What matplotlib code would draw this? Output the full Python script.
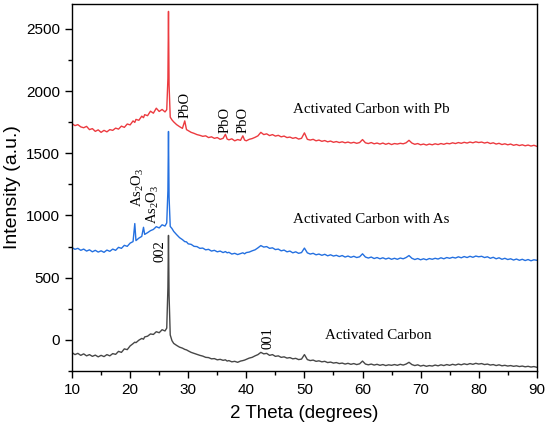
import matplotlib
matplotlib.use("Agg")
import matplotlib.pyplot as plt
from matplotlib.ticker import MultipleLocator

# 2 theta positions (deg), shared by the three patterns
two_theta = [
    10.0, 10.5, 11.0, 11.5, 12.0, 12.5, 13.0, 13.5, 14.0, 14.5,
    15.0, 15.5, 16.0, 16.5, 17.0, 17.5, 18.0, 18.5, 19.0, 19.5,
    20.0, 20.5, 20.8, 21.0, 21.5, 22.0, 22.3, 22.5, 23.0, 23.5,
    24.0, 24.5, 25.0, 25.5, 26.0, 26.3, 26.5, 26.6, 26.7, 26.9,
    27.2, 27.5, 28.0, 28.5, 29.0, 29.4, 29.7, 30.0, 30.5, 31.0,
    31.5, 32.0, 32.5, 33.0, 33.5, 34.0, 34.5, 35.0, 35.5, 36.0,
    36.4, 36.7, 37.0, 37.5, 38.0, 38.5, 39.0, 39.4, 39.7, 40.0,
    40.5, 41.0, 41.5, 42.0, 42.5, 43.0, 43.5, 44.0, 44.5, 45.0,
    45.5, 46.0, 46.5, 47.0, 47.5, 48.0, 48.5, 49.0, 49.5, 50.0,
    50.5, 51.0, 51.5, 52.0, 52.5, 53.0, 53.5, 54.0, 54.5, 55.0,
    55.5, 56.0, 56.5, 57.0, 57.5, 58.0, 58.5, 59.0, 59.5, 60.0,
    60.5, 61.0, 61.5, 62.0, 62.5, 63.0, 63.5, 64.0, 64.5, 65.0,
    65.5, 66.0, 66.5, 67.0, 67.5, 68.0, 68.5, 69.0, 69.5, 70.0,
    70.5, 71.0, 71.5, 72.0, 72.5, 73.0, 73.5, 74.0, 74.5, 75.0,
    75.5, 76.0, 76.5, 77.0, 77.5, 78.0, 78.5, 79.0, 79.5, 80.0,
    80.5, 81.0, 81.5, 82.0, 82.5, 83.0, 83.5, 84.0, 84.5, 85.0,
    85.5, 86.0, 86.5, 87.0, 87.5, 88.0, 88.5, 89.0, 89.5, 90.0,
]

ac_pb = [
    1738, 1722, 1730, 1712, 1705, 1716, 1690, 1698, 1676, 1688,
    1668, 1684, 1672, 1690, 1684, 1702, 1694, 1718, 1708, 1735,
    1728, 1760, 1748, 1772, 1765, 1798, 1786, 1810, 1802, 1838,
    1822, 1862, 1836, 1852, 1832, 1850, 2100, 2640, 2050, 1790,
    1768, 1752, 1730, 1714, 1700, 1760, 1690, 1682, 1668, 1660,
    1650, 1644, 1636, 1640, 1626, 1632, 1620, 1626, 1612, 1620,
    1652, 1614, 1608, 1616, 1600, 1610, 1604, 1640, 1606, 1600,
    1612, 1618, 1628, 1640, 1668, 1650, 1656, 1642, 1650, 1638,
    1644, 1632, 1638, 1626, 1630, 1620, 1626, 1614, 1620, 1664,
    1612, 1606, 1612, 1600, 1606, 1596, 1602, 1592, 1598, 1588,
    1594, 1586, 1592, 1584, 1590, 1582, 1588, 1580, 1586, 1610,
    1584, 1578, 1586, 1576, 1582, 1574, 1582, 1572, 1580, 1570,
    1578, 1574, 1580, 1576, 1584, 1604, 1582, 1572, 1578, 1568,
    1574, 1566, 1574, 1568, 1576, 1570, 1578, 1572, 1580, 1576,
    1584, 1578, 1586, 1580, 1588, 1582, 1590, 1584, 1592, 1586,
    1590, 1582, 1588, 1578, 1584, 1574, 1580, 1570, 1576, 1568,
    1574, 1564, 1570, 1562, 1568, 1560, 1566, 1558, 1564, 1556,
]

ac_as = [
    742, 728, 736, 720, 730, 714, 724, 708, 720, 706,
    716, 704, 722, 712, 730, 720, 744, 736, 760, 752,
    778, 790, 935, 798, 818, 832, 905, 848, 862, 878,
    888, 910, 900, 925, 915, 940, 1200, 1675, 1150, 912,
    895, 872, 846, 822, 806, 790, 788, 772, 768, 752,
    750, 736, 738, 724, 728, 714, 720, 708, 714, 702,
    710, 700, 704, 690, 696, 686, 694, 700, 692, 702,
    706, 716, 724, 740, 758, 746, 750, 736, 740, 726,
    730, 716, 722, 708, 714, 700, 708, 696, 702, 738,
    700, 690, 696, 684, 690, 680, 688, 676, 684, 674,
    680, 670, 678, 666, 674, 664, 672, 662, 668, 692,
    666, 658, 666, 654, 662, 652, 660, 650, 658, 648,
    656, 648, 658, 652, 662, 678, 656, 646, 654, 644,
    652, 644, 654, 648, 656, 650, 660, 652, 662, 656,
    664, 658, 668, 660, 670, 662, 672, 664, 674, 668,
    672, 662, 668, 656, 664, 652, 660, 648, 656, 646,
    652, 642, 650, 640, 648, 638, 646, 636, 644, 640,
]

ac = [
    -102, -118, -108, -124, -112, -128, -118, -132, -122, -136,
    -124, -134, -118, -128, -110, -116, -92, -100, -72, -78,
    -48, -30, -18, -22, -2, 12, 6, 24, 30, 48,
    44, 66, 58, 82, 72, 95, 420, 840, 360, 40,
    -6, -28, -44, -58, -66, -76, -80, -88, -100, -108,
    -116, -124, -130, -140, -142, -152, -150, -160, -156, -164,
    -160, -170, -166, -176, -172, -180, -170, -166, -162, -156,
    -146, -140, -128, -118, -100, -112, -108, -124, -118, -132,
    -128, -140, -136, -146, -142, -152, -148, -158, -154, -118,
    -158, -166, -162, -172, -168, -176, -172, -182, -178, -186,
    -182, -190, -186, -194, -188, -196, -190, -198, -192, -170,
    -194, -200, -194, -202, -196, -204, -198, -206, -200, -204,
    -198, -204, -196, -202, -194, -180, -198, -206, -200, -210,
    -204, -212, -206, -210, -202, -208, -200, -206, -198, -204,
    -196, -202, -194, -200, -192, -198, -190, -196, -188, -194,
    -190, -198, -194, -202, -198, -206, -200, -208, -204, -210,
    -206, -212, -208, -214, -210, -216, -212, -218, -214, -220,
]

plt.rcParams["font.family"] = ["Liberation Sans", "DejaVu Sans"]
plt.rcParams["mathtext.fontset"] = "custom"
plt.rcParams["mathtext.rm"] = "Liberation Serif"
plt.rcParams["mathtext.it"] = "Liberation Serif:italic"

fig = plt.figure(figsize=(5.5, 4.36), dpi=100)
ax = fig.add_axes([0.131, 0.149, 0.845, 0.842])

ax.plot(two_theta, ac, color="#474747", lw=1.0)
ax.plot(two_theta, ac_as, color="#2470e0", lw=1.0)
ax.plot(two_theta, ac_pb, color="#ec3a3f", lw=1.0)

ax.set_xlim(10, 90)
ax.set_ylim(-250, 2700)
ax.xaxis.set_major_locator(MultipleLocator(10))
ax.xaxis.set_minor_locator(MultipleLocator(5))
ax.yaxis.set_major_locator(MultipleLocator(500))
ax.yaxis.set_minor_locator(MultipleLocator(250))
ax.tick_params(which="both", direction="out", top=False, right=False,
               labelsize=11, width=1)
ax.tick_params(which="major", length=5)
ax.tick_params(which="minor", length=3)
for s in ax.spines.values():
    s.set_linewidth(1)

ax.set_xlabel("2 Theta (degrees)", fontsize=13.5, labelpad=6)
ax.set_ylabel("Intensity (a.u.)", fontsize=14, labelpad=4)

serif = "Liberation Serif"
ax.text(48, 1855, "Activated Carbon with Pb", family=serif, fontsize=10.8, va="center")
ax.text(48, 965, "Activated Carbon with As", family=serif, fontsize=10.8, va="center")
ax.text(53.5, 35, "Activated Carbon", family=serif, fontsize=10.8, va="center")

ax.text(29.4, 1890, "PbO", family=serif, fontsize=10.5, rotation=90, ha="center", va="center")
ax.text(36.3, 1770, "PbO", family=serif, fontsize=10.5, rotation=90, ha="center", va="center")
ax.text(39.4, 1770, "PbO", family=serif, fontsize=10.5, rotation=90, ha="center", va="center")
ax.text(21.3, 1222, "As$_2$O$_3$", family=serif, fontsize=10.5, rotation=90, ha="center", va="center")
ax.text(23.9, 1093, "As$_2$O$_3$", family=serif, fontsize=10.5, rotation=90, ha="center", va="center")
ax.text(25.1, 710, "002", family=serif, fontsize=10.5, rotation=90, ha="center", va="center")
ax.text(43.7, 16, "001", family=serif, fontsize=10.5, rotation=90, ha="center", va="center")

fig.savefig("out.png", dpi=100)
